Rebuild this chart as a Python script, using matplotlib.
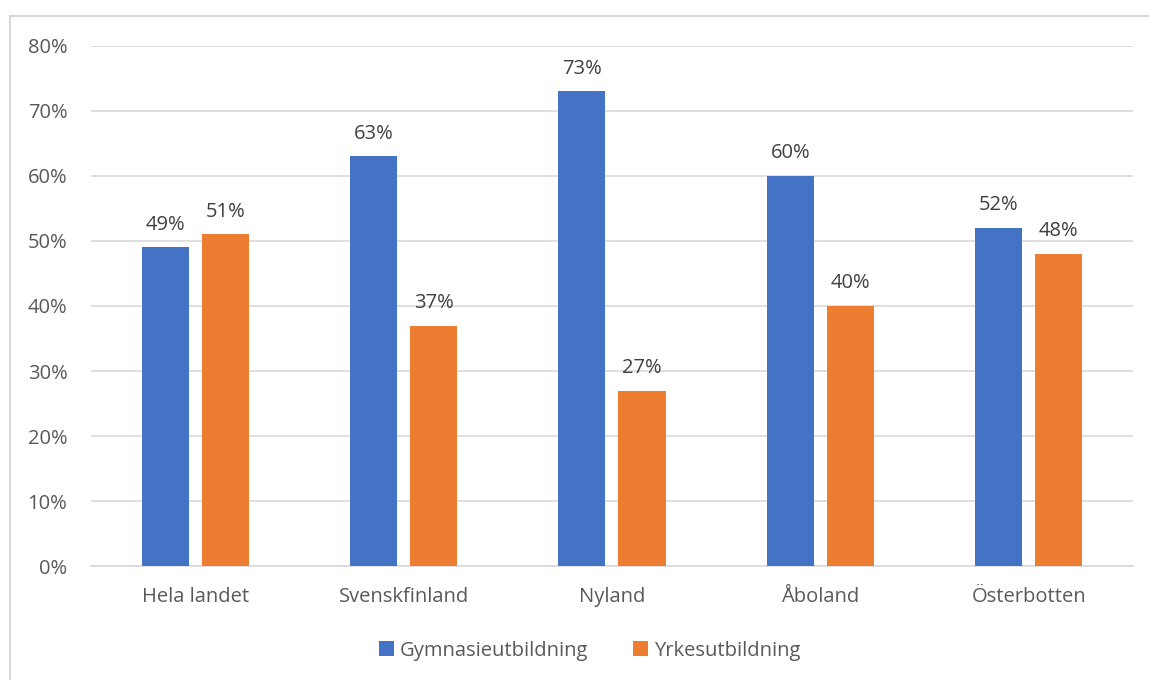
import matplotlib
matplotlib.use("Agg")
import matplotlib.pyplot as plt
import numpy as np
from matplotlib.patches import Rectangle

# data
categories = ["Hela landet", "Svenskfinland", "Nyland", "Åboland", "Österbotten"]
gymnasie = [0.49, 0.63, 0.73, 0.60, 0.52]
yrkes = [0.51, 0.37, 0.27, 0.40, 0.48]
series_names = ["Gymnasieutbildning", "Yrkesutbildning"]
yticks = [0.0, 0.1, 0.2, 0.3, 0.4, 0.5, 0.6, 0.7, 0.8]

BLUE = "#4472C4"
ORANGE = "#ED7D31"
TXT = "#595959"
LBL = "#404040"
GRID = "#D9D9D9"
FS = 14.5

plt.rcParams["font.family"] = ["Open Sans", "DejaVu Sans"]

fig = plt.figure(figsize=(11.49, 6.80), dpi=100)
ax = fig.add_axes([0.0792, 0.1676, 0.9068, 0.7648])

# outer chart frame (only top/left edges visible in the crop)
fig.patches.append(Rectangle((10 / 1149, -0.1), 1.2, 1 - 16 / 680 + 0.1,
                             transform=fig.transFigure, fill=False,
                             edgecolor=GRID, linewidth=1.5))

x = np.arange(len(categories))
w = 0.226
gap = 0.0625
off = (w + gap) / 2
b1 = ax.bar(x - off, gymnasie, w, color=BLUE, label=series_names[0], zorder=3)
b2 = ax.bar(x + off, yrkes, w, color=ORANGE, label=series_names[1], zorder=3)

for bars, vals in ((b1, gymnasie), (b2, yrkes)):
    for rect, v in zip(bars, vals):
        ax.annotate(f"{round(v * 100)}%", (rect.get_x() + rect.get_width() / 2, v),
                    xytext=(0, 9), textcoords="offset points",
                    ha="center", va="bottom", fontsize=FS, color=LBL)

ax.set_xlim(-0.5, len(categories) - 0.5)
ax.set_ylim(0, 0.8)
ax.set_yticks(yticks)
ax.set_yticklabels([f"{int(round(t * 100))}%" for t in yticks])
ax.set_xticks(x)
ax.set_xticklabels(categories)
ax.tick_params(axis="both", length=0, labelsize=FS, labelcolor=TXT)
ax.tick_params(axis="y", pad=17)
ax.tick_params(axis="x", pad=15)
ax.grid(axis="y", color=GRID, linewidth=1.2, zorder=0)
for s in ("top", "right", "left"):
    ax.spines[s].set_visible(False)
ax.spines["bottom"].set_color(GRID)
ax.spines["bottom"].set_linewidth(1.2)

fig.legend(handles=[b1, b2], loc="center", bbox_to_anchor=(0.513, 0.043),
           ncol=2, frameon=False, fontsize=FS, labelcolor=TXT,
           handlelength=0.75, handleheight=0.75, handletextpad=0.3, columnspacing=2.2)

fig.savefig("out.png", dpi=100)
